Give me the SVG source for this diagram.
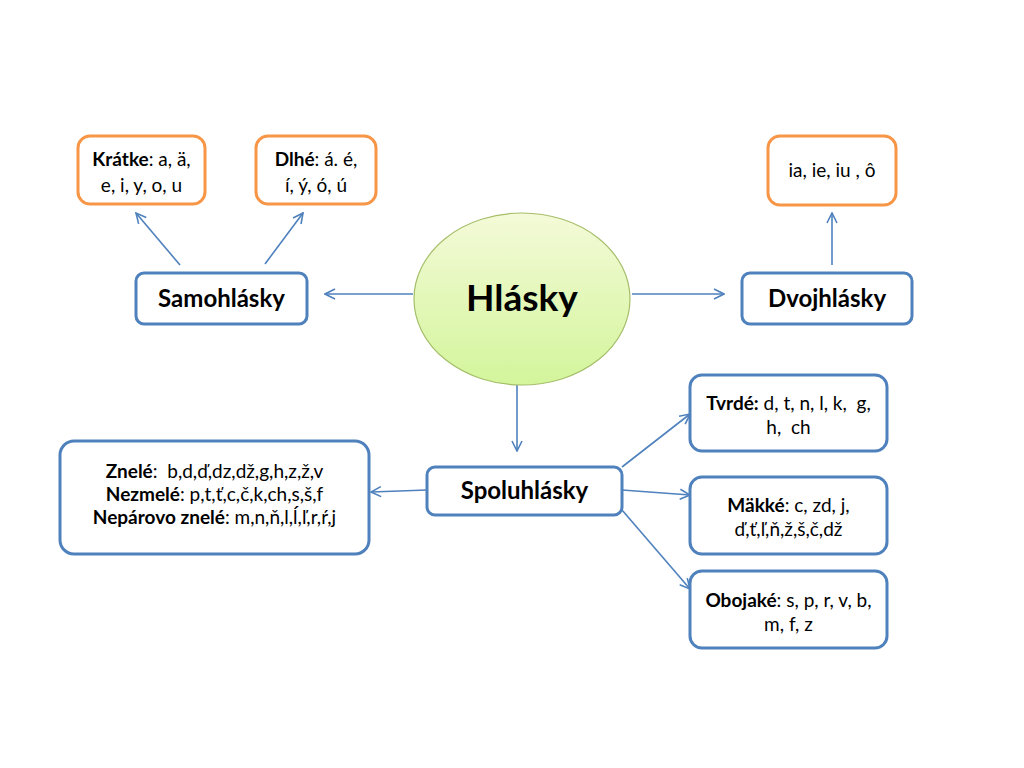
<svg xmlns="http://www.w3.org/2000/svg" width="1024" height="768" viewBox="0 0 1024 768">
<style>
text{font-family:"Lato","Liberation Sans",sans-serif;fill:#000;text-anchor:middle;white-space:pre}
.o{fill:#fff;stroke:#F79646;stroke-width:3}
.b{fill:#fff;stroke:#4F81BD;stroke-width:3}
.s{font-size:19px}
.h{font-size:24px;font-weight:bold}
.c line{stroke:#4F81BD;stroke-width:1.6;marker-end:url(#a)}
</style>
<defs>
<marker id="a" viewBox="0 0 12 12" refX="11" refY="6" markerWidth="12" markerHeight="12" markerUnits="userSpaceOnUse" orient="auto">
<path d="M1,1 L11,6 L1,11" fill="none" stroke="#4F81BD" stroke-width="1.6"/>
</marker>
<linearGradient id="g" x1="0" y1="0" x2="0" y2="1">
<stop offset="0" stop-color="#F4FAD8"/>
<stop offset="1" stop-color="#D3F59B"/>
</linearGradient>
</defs>
<rect width="1024" height="768" fill="#fff"/>
<g class="c">
<line x1="180" y1="265" x2="136" y2="213"/>
<line x1="265" y1="264" x2="303" y2="213"/>
<line x1="413" y1="294" x2="325" y2="294"/>
<line x1="632" y1="294" x2="724" y2="294"/>
<line x1="832" y1="265" x2="832" y2="213"/>
<line x1="517" y1="385" x2="517" y2="451"/>
<line x1="427" y1="490" x2="371" y2="492"/>
<line x1="622" y1="467" x2="690" y2="414"/>
<line x1="622" y1="490" x2="690" y2="495"/>
<line x1="622" y1="510" x2="690" y2="589"/>
</g>
<g id="kratke"><rect class="o" x="78" y="136" width="127" height="68" rx="12"/>
<text class="s" x="141.5" y="166" font-size="18"><tspan font-weight="bold">Krátke</tspan>: a, ä,</text>
<text class="s" x="141.5" y="192" font-size="18">e, i, y, o, u</text></g>
<g id="dlhe"><rect class="o" x="256" y="136" width="120" height="68" rx="12"/>
<text class="s" x="316" y="166" font-size="18"><tspan font-weight="bold">Dlhé</tspan>: á. é,</text>
<text class="s" x="316" y="192" font-size="18">í, ý, ó, ú</text></g>
<g id="dvoj-list"><rect class="o" x="768" y="136" width="128" height="69" rx="12"/>
<text class="s" x="832" y="177" font-size="18">ia, ie, iu , ô</text></g>
<g id="samohlasky"><rect class="b" x="136" y="273" width="171" height="51" rx="8"/>
<text class="h" x="221.5" y="307">Samohlásky</text></g>
<g id="hlasky"><ellipse cx="522" cy="299" rx="108" ry="86" fill="url(#g)" stroke="#A5BE6A" stroke-width="1.2"/>
<text x="522" y="311" font-size="37" font-weight="bold">Hlásky</text></g>
<g id="dvojhlasky"><rect class="b" x="742" y="273" width="170" height="51" rx="8"/>
<text class="h" x="827" y="307">Dvojhlásky</text></g>
<g id="spoluhlasky"><rect class="b" x="427" y="467" width="195" height="48" rx="8"/>
<text class="h" x="524.5" y="499">Spoluhlásky</text></g>
<g id="znele"><rect class="b" x="60" y="441" width="309" height="113" rx="14"/>
<text class="s" x="214.5" y="478"><tspan font-weight="bold">Znelé</tspan>:  b,d,ď,dz,dž,g,h,z,ž,v</text>
<text class="s" x="214.5" y="501"><tspan font-weight="bold">Nezmelé</tspan>: p,t,ť,c,č,k,ch,s,š,f</text>
<text class="s" x="214.5" y="524"><tspan font-weight="bold">Nepárovo znelé</tspan>: m,n,ň,l,ĺ,ľ,r,ŕ,j</text></g>
<g id="tvrde"><rect class="b" x="690" y="375" width="197" height="76" rx="12"/>
<text class="s" x="788.5" y="410"><tspan font-weight="bold">Tvrdé:</tspan> d, t, n, l, k,  g,</text>
<text class="s" x="788.5" y="434">h,  ch</text></g>
<g id="makke"><rect class="b" x="690" y="477" width="197" height="77" rx="12"/>
<text class="s" x="788.5" y="512"><tspan font-weight="bold">Mäkké</tspan>: c, zd, j,</text>
<text class="s" x="788.5" y="536">ď,ť,ľ,ň,ž,š,č,dž</text></g>
<g id="obojake"><rect class="b" x="690" y="571" width="197" height="77" rx="12"/>
<text class="s" x="788.5" y="607"><tspan font-weight="bold">Obojaké</tspan>: s, p, r, v, b,</text>
<text class="s" x="788.5" y="631">m, f, z</text></g>
</svg>
